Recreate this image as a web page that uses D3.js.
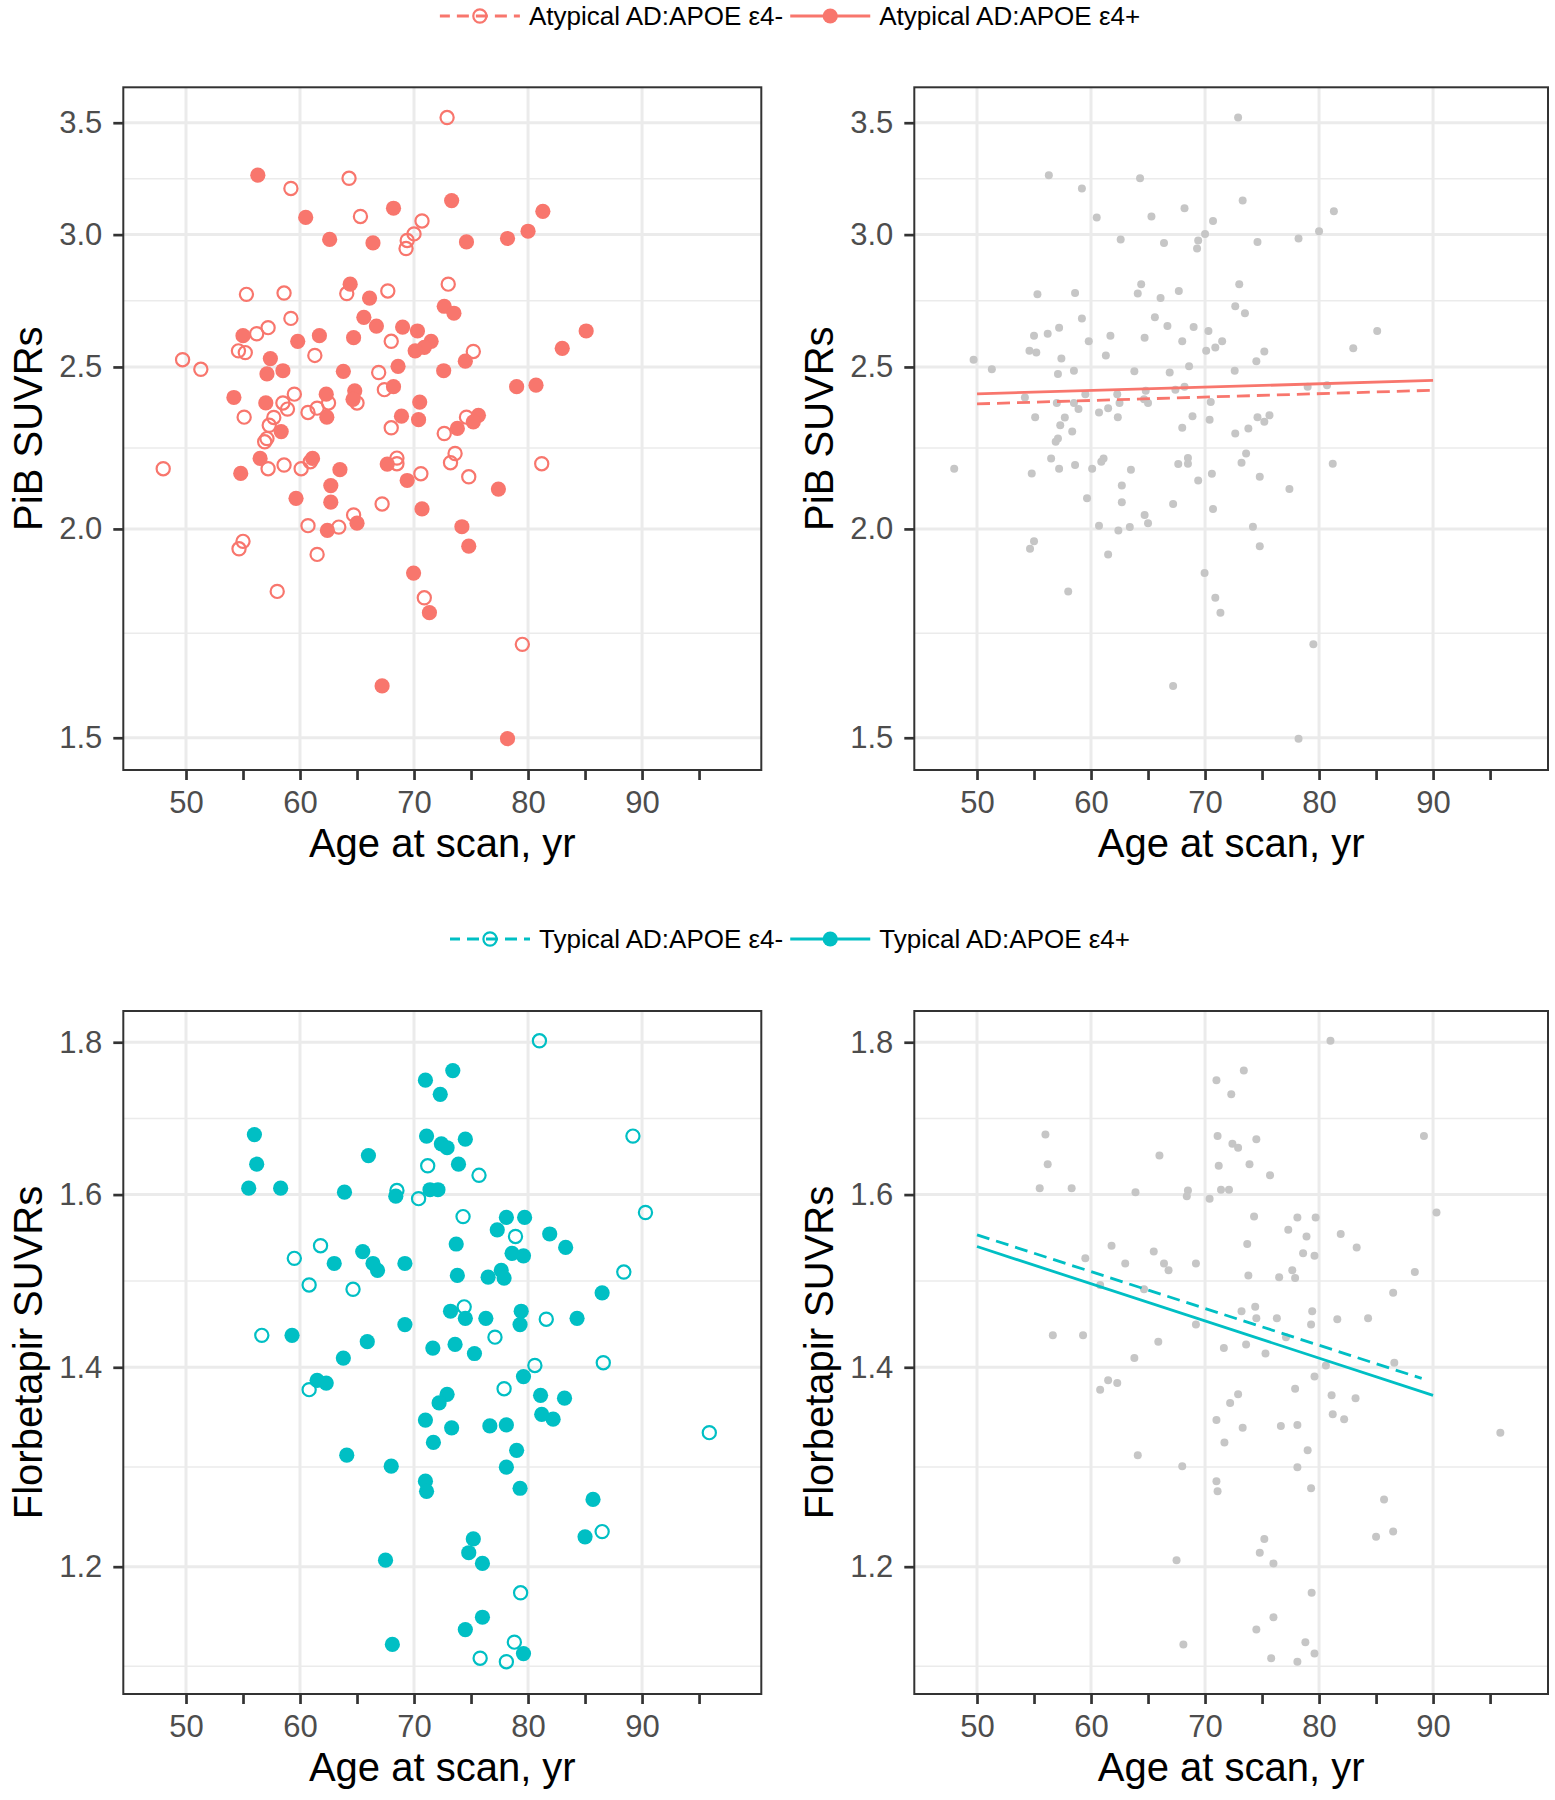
<!DOCTYPE html>
<html><head><meta charset="utf-8">
<script src="https://cdn.jsdelivr.net/npm/d3@7"></script>
<style>
body{margin:0;background:#fff}
svg{display:block}
text{font-family:"Liberation Sans", Arial, sans-serif}
</style>
</head><body>
<svg id="c" width="1555" height="1800"></svg>
<script>
// ---------------- data ----------------
const xTickValues = [50, 55, 60, 65, 70, 75, 80, 85, 90, 95];
const xLabelValues = [50, 60, 70, 80, 90];
const pibTicks = [1.5, 2.0, 2.5, 3.0, 3.5];
const fbpTicks = [1.2, 1.4, 1.6, 1.8];

const atypLabels = ["Atypical AD:APOE \u03b54-", "Atypical AD:APOE \u03b54+"];
const typLabels = ["Typical AD:APOE \u03b54-", "Typical AD:APOE \u03b54+"];

// Atypical AD, APOE e4- (open circles) — PiB SUVR
const atypNegAge = [72.9,64.3,59.2,65.3,70.7,70.0,69.4,69.3,55.3,58.6,64.1,67.7,73.0,59.2,56.2,57.2,68.0,75.2,54.6,55.2,49.7,61.3,51.3,66.9,67.4,59.5,58.5,58.9,61.5,60.7,62.5,65.0,55.1,57.7,57.3,74.6,68.0,72.65,56.9,57.1,73.6,73.2,68.5,68.5,48.0,57.2,58.6,60.1,60.9,81.2,70.6,74.8,67.2,64.7,60.7,63.4,55.0,54.65,61.5,58.0,70.9,79.5];
const atypNegSuvr = [3.525,3.242,3.197,3.076,3.057,3.003,2.976,2.943,2.763,2.768,2.766,2.776,2.802,2.673,2.617,2.639,2.590,2.554,2.556,2.550,2.525,2.540,2.492,2.481,2.423,2.408,2.379,2.359,2.362,2.348,2.379,2.379,2.333,2.332,2.307,2.333,2.299,2.281,2.255,2.265,2.219,2.191,2.205,2.188,2.173,2.173,2.184,2.173,2.194,2.188,2.158,2.149,2.070,2.039,2.009,2.005,1.966,1.946,1.931,1.835,1.819,1.706];

// Atypical AD, APOE e4+ (filled circles)
const atypPosAge = [56.3,60.5,68.2,73.3,81.3,62.6,66.4,74.6,78.2,80.0,64.4,66.1,72.65,73.5,65.6,66.7,69.0,70.3,55.0,61.7,59.8,64.7,71.5,70.9,70.1,85.1,83.0,57.4,57.1,58.5,63.8,68.6,72.6,74.5,54.2,57.0,62.3,64.8,64.65,68.2,70.5,79.0,80.7,62.35,68.9,70.4,75.65,75.2,58.35,73.8,56.5,61.1,54.8,63.5,67.65,69.4,59.65,62.7,62.7,77.4,70.7,62.4,65.0,74.2,74.8,69.96,71.35,67.2,78.2];
const atypPosSuvr = [3.256,3.072,3.111,3.144,3.098,2.980,2.966,2.970,2.984,3.014,2.802,2.749,2.718,2.692,2.677,2.645,2.641,2.627,2.610,2.610,2.590,2.603,2.590,2.568,2.556,2.627,2.565,2.529,2.476,2.487,2.485,2.502,2.487,2.520,2.397,2.379,2.408,2.419,2.391,2.433,2.382,2.433,2.438,2.333,2.336,2.325,2.339,2.318,2.287,2.297,2.204,2.204,2.159,2.170,2.187,2.138,2.086,2.123,2.075,2.113,2.056,1.996,2.016,2.006,1.953,1.882,1.782,1.611,1.498];

// Typical AD, APOE e4- (open circles) — Florbetapir SUVR
const typNegAge = [81.0,71.2,75.7,68.5,70.4,89.2,90.3,74.3,78.9,59.5,61.8,60.8,64.65,88.4,74.4,81.6,56.65,77.1,80.6,86.6,60.8,77.9,95.9,86.5,79.35,78.8,75.8,78.1];
const typNegSuvr = [1.802,1.636,1.624,1.605,1.595,1.674,1.578,1.573,1.549,1.523,1.538,1.492,1.487,1.507,1.467,1.453,1.435,1.433,1.402,1.405,1.376,1.377,1.331,1.233,1.176,1.132,1.118,1.115];

// Typical AD, APOE e4+ (filled circles)
const typPosAge = [73.4,71.0,72.3,56.0,71.1,72.4,72.9,74.5,66.0,56.2,73.9,55.5,58.3,63.9,71.4,72.1,68.4,77.3,78.1,79.7,81.9,83.3,73.7,78.6,79.6,65.5,69.2,63.0,66.4,66.8,77.65,76.5,77.9,73.8,86.5,73.2,74.5,76.3,79.4,79.3,84.3,69.2,59.3,65.9,73.6,71.65,75.3,63.8,79.6,61.5,62.3,72.9,72.2,81.1,83.2,81.2,82.2,71.0,73.3,76.65,78.1,71.7,79.0,64.1,68.0,78.1,71.0,71.1,79.3,85.7,85.0,75.2,74.8,76.0,67.5,76.0,74.5,68.1,79.6];
const typPosSuvr = [1.761,1.748,1.729,1.676,1.674,1.664,1.659,1.670,1.649,1.638,1.638,1.608,1.608,1.603,1.606,1.606,1.598,1.557,1.572,1.572,1.552,1.536,1.540,1.529,1.526,1.531,1.517,1.517,1.517,1.509,1.509,1.501,1.500,1.503,1.483,1.462,1.454,1.454,1.462,1.447,1.454,1.447,1.435,1.428,1.425,1.421,1.415,1.410,1.390,1.386,1.383,1.371,1.362,1.370,1.367,1.350,1.345,1.344,1.336,1.338,1.339,1.321,1.313,1.308,1.297,1.296,1.282,1.272,1.275,1.264,1.228,1.226,1.213,1.203,1.206,1.154,1.143,1.130,1.122];

// fitted lines (age endpoints and SUVR endpoints)
const atypFitAge = [50, 90];
const atypNegFit = [2.376, 2.421];
const atypPosFit = [2.409, 2.454];
const typNegFitAge = [50, 89];
const typNegFit = [1.551, 1.388];
const typPosFitAge = [50, 90];
const typPosFit = [1.537, 1.370];

// ---------------- style / layout ----------------
const RED = "#F8766D", CYAN = "#00BFC4", GREY = "#C6C6C6";
const GRID = "#EBEBEB", DARK = "#333333", TICKTXT = "#4D4D4D";
const FONT = "'Liberation Sans', Arial, sans-serif";
const cols = [{left: 123.3, right: 761.3, xMax: 100.46, titleX: 42},
              {left: 914.3, right: 1548, xMax: 100.08, titleX: 833}];
const rows = [{top: 87.3, bottom: 770, yDom: [1.4348, 3.675], ticks: pibTicks, title: "PiB SUVRs", legendY: 16},
              {top: 1011, bottom: 1694, yDom: [1.0875, 1.844], ticks: fbpTicks, title: "Florbetapir SUVRs", legendY: 939}];

const svg = d3.select("#c");
svg.append("rect").attr("width", 1555).attr("height", 1800).attr("fill", "#fff");
let clipId = 0;

function zip(a, b) { return a.map((v, i) => [v, b[i]]); }

function drawPanel(col, row, layer) {
  const g = svg.append("g");
  const x = d3.scaleLinear().domain([44.5, col.xMax]).range([col.left, col.right]);
  const y = d3.scaleLog().domain(row.yDom).range([row.bottom, row.top]);

  // minor breaks: midpoints in log space between (extended) major breaks
  const lt = row.ticks.map(Math.log);
  const n = lt.length;
  const ext = [lt[0] - (lt[1] - lt[0]), ...lt, lt[n - 1] + (lt[n - 1] - lt[n - 2])];
  const minor = [];
  for (let i = 0; i < ext.length - 1; i++) minor.push(Math.exp((ext[i] + ext[i + 1]) / 2));
  const inY = v => v >= row.yDom[0] && v <= row.yDom[1];

  const grid = g.append("g");
  grid.selectAll("line.mn").data(minor.filter(inY)).join("line").attr("class", "mn")
    .attr("x1", col.left).attr("x2", col.right)
    .attr("y1", d => y(d)).attr("y2", d => y(d))
    .attr("stroke", GRID).attr("stroke-width", 1.5);
  grid.selectAll("line.mj").data(row.ticks).join("line").attr("class", "mj")
    .attr("x1", col.left).attr("x2", col.right)
    .attr("y1", d => y(d)).attr("y2", d => y(d))
    .attr("stroke", GRID).attr("stroke-width", 3);
  grid.selectAll("line.vx").data(xLabelValues).join("line").attr("class", "vx")
    .attr("x1", d => x(d)).attr("x2", d => x(d))
    .attr("y1", row.top).attr("y2", row.bottom)
    .attr("stroke", GRID).attr("stroke-width", 3);

  const id = "clip" + (clipId++);
  g.append("clipPath").attr("id", id).append("rect")
    .attr("x", col.left).attr("y", row.top)
    .attr("width", col.right - col.left).attr("height", row.bottom - row.top);
  const plot = g.append("g").attr("clip-path", `url(#${id})`);
  layer(plot, x, y);

  // border
  g.append("rect").attr("x", col.left).attr("y", row.top)
    .attr("width", col.right - col.left).attr("height", row.bottom - row.top)
    .attr("fill", "none").attr("stroke", DARK).attr("stroke-width", 2);

  // axes
  const ay = g.append("g").attr("transform", `translate(${col.left},0)`)
    .call(d3.axisLeft(y).tickValues(row.ticks).tickFormat(d3.format(".1f")).tickSize(10).tickPadding(11));
  const ax = g.append("g").attr("transform", `translate(0,${row.bottom})`)
    .call(d3.axisBottom(x).tickValues(xTickValues).tickFormat(d => xLabelValues.includes(d) ? d : "").tickSize(10).tickPadding(11));
  [ax, ay].forEach(a => {
    a.select(".domain").remove();
    a.attr("font-size", 31).attr("font-family", FONT);
    a.selectAll("line").attr("stroke", DARK).attr("stroke-width", 2.7);
    a.selectAll("text").attr("fill", TICKTXT);
  });

  // axis titles
  g.append("text").attr("x", (col.left + col.right) / 2).attr("y", row.bottom + 87)
    .attr("text-anchor", "middle").attr("font-size", 40).attr("fill", "#000")
    .text("Age at scan, yr");
  g.append("text").attr("transform", `translate(${col.titleX},${(row.top + row.bottom) / 2}) rotate(-90)`)
    .attr("text-anchor", "middle").attr("font-size", 40).attr("fill", "#000")
    .text(row.title);
}

function groupLayer(negAge, negSuvr, posAge, posSuvr, color) {
  return (p, x, y) => {
    p.selectAll("circle.neg").data(zip(negAge, negSuvr)).join("circle").attr("class", "neg")
      .attr("cx", d => x(d[0])).attr("cy", d => y(d[1])).attr("r", 6.6)
      .attr("fill", "none").attr("stroke", color).attr("stroke-width", 2.2);
    p.selectAll("circle.pos").data(zip(posAge, posSuvr)).join("circle").attr("class", "pos")
      .attr("cx", d => x(d[0])).attr("cy", d => y(d[1])).attr("r", 7.6)
      .attr("fill", color);
  };
}

function fitLayer(allAge, allSuvr, negFitAge, negFit, posFitAge, posFit, color) {
  return (p, x, y) => {
    p.selectAll("circle.g").data(zip(allAge, allSuvr)).join("circle").attr("class", "g")
      .attr("cx", d => x(d[0])).attr("cy", d => y(d[1])).attr("r", 4)
      .attr("fill", GREY);
    const line = d3.line().x(d => x(d[0])).y(d => y(d[1]));
    p.append("path").datum(zip(posFitAge, posFit)).attr("d", line)
      .attr("fill", "none").attr("stroke", color).attr("stroke-width", 2.8);
    p.append("path").datum(zip(negFitAge, negFit)).attr("d", line)
      .attr("fill", "none").attr("stroke", color).attr("stroke-width", 2.8)
      .attr("stroke-dasharray", "13,7");
  };
}

drawPanel(cols[0], rows[0], groupLayer(atypNegAge, atypNegSuvr, atypPosAge, atypPosSuvr, RED));
drawPanel(cols[1], rows[0], fitLayer(atypNegAge.concat(atypPosAge), atypNegSuvr.concat(atypPosSuvr),
  atypFitAge, atypNegFit, atypFitAge, atypPosFit, RED));
drawPanel(cols[0], rows[1], groupLayer(typNegAge, typNegSuvr, typPosAge, typPosSuvr, CYAN));
drawPanel(cols[1], rows[1], fitLayer(typNegAge.concat(typPosAge), typNegSuvr.concat(typPosSuvr),
  typNegFitAge, typNegFit, typPosFitAge, typPosFit, CYAN));

// legends
function legend(yc, color, labels) {
  const g = svg.append("g");
  let cx = 0;
  const KW = 80;
  labels.forEach((lab, i) => {
    const k = g.append("g").attr("transform", `translate(${cx},${yc})`);
    const ln = k.append("line").attr("x1", 0).attr("x2", KW).attr("y1", 0).attr("y2", 0)
      .attr("stroke", color).attr("stroke-width", 2.8);
    if (i === 0) {
      ln.attr("stroke-dasharray", "12,7").attr("stroke-dashoffset", 2);
      k.append("circle").attr("cx", KW / 2).attr("cy", 0).attr("r", 6.6)
        .attr("fill", "none").attr("stroke", color).attr("stroke-width", 2.2);
    } else {
      k.append("circle").attr("cx", KW / 2).attr("cy", 0).attr("r", 7.6).attr("fill", color);
    }
    cx += KW + 9;
    const t = g.append("text").attr("x", cx).attr("y", yc).attr("dy", "0.35em")
      .attr("font-size", 26).attr("fill", "#000").text(lab);
    cx += t.node().getComputedTextLength() + 7;
  });
  const total = cx - 7;
  g.attr("transform", `translate(${790 - total / 2},0)`);
}
legend(rows[0].legendY, RED, atypLabels);
legend(rows[1].legendY, CYAN, typLabels);
</script>
</body></html>
